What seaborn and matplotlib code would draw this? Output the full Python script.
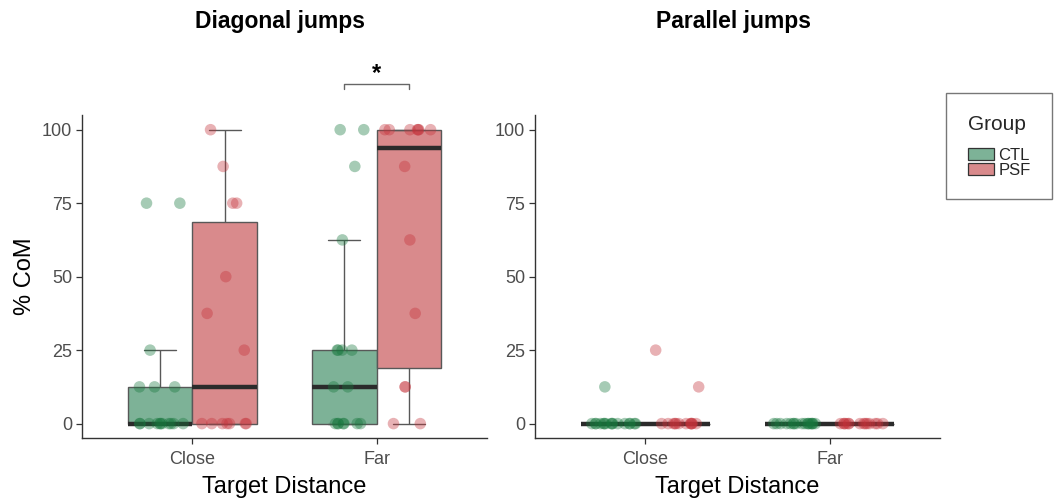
import numpy as np
import pandas as pd
import matplotlib
matplotlib.use("Agg")
import matplotlib.pyplot as plt
import seaborn as sns
from matplotlib.patches import Patch

# ---- data: % change of mind per participant ----
distances = ["Close", "Far"]
groups = ["CTL", "PSF"]
yticks = [0, 25, 50, 75, 100]

diag_ctl_close = [0, 0, 0, 0, 0, 0, 0, 0, 0, 0, 0, 12.5, 12.5, 12.5, 25, 75, 75]
diag_psf_close = [0, 0, 0, 0, 0, 0, 0, 25, 37.5, 50, 75, 75, 87.5, 100]
diag_ctl_far = [0, 0, 0, 0, 0, 0, 0, 12.5, 12.5, 25, 25, 25, 25, 62.5, 87.5, 100, 100]
diag_psf_far = [0, 0, 12.5, 12.5, 37.5, 62.5, 87.5, 100, 100, 100, 100, 100, 100, 100]

par_ctl_close = [0, 0, 0, 0, 0, 0, 0, 0, 0, 0, 0, 0, 0, 0, 0, 0, 12.5]
par_psf_close = [0, 0, 0, 0, 0, 0, 0, 0, 0, 0, 0, 0, 12.5, 25]
par_ctl_far = [0, 0, 0, 0, 0, 0, 0, 0, 0, 0, 0, 0, 0, 0, 0, 0, 0]
par_psf_far = [0, 0, 0, 0, 0, 0, 0, 0, 0, 0, 0, 0, 0, 0]


def long_table(series):
    rows = []
    for (dist, grp), vals in series.items():
        for v in vals:
            rows.append({"Distance": dist, "Group": grp, "CoM": v})
    return pd.DataFrame(rows)


diag_df = long_table({("Close", "CTL"): diag_ctl_close, ("Close", "PSF"): diag_psf_close,
                      ("Far", "CTL"): diag_ctl_far, ("Far", "PSF"): diag_psf_far})
par_df = long_table({("Close", "CTL"): par_ctl_close, ("Close", "PSF"): par_psf_close,
                     ("Far", "CTL"): par_ctl_far, ("Far", "PSF"): par_psf_far})

# ---- style ----
sns.set_theme(style="white")
plt.rcParams["font.family"] = ["Liberation Sans", "DejaVu Sans"]

box_colors = {"CTL": "#7DB297", "PSF": "#D98A8C"}
point_colors = {"CTL": "#17773D", "PSF": "#C4323A"}
edge_grey = "#585858"
axis_grey = "#333333"
tick_text = "#4D4D4D"

np.random.seed(7)

fig = plt.figure(figsize=(10.56, 5.0), dpi=100)
ax_l = fig.add_axes([82 / 1056, 1 - 438.3 / 500, 405 / 1056, 323.3 / 500])
ax_r = fig.add_axes([535 / 1056, 1 - 438.3 / 500, 405 / 1056, 323.3 / 500])

BOX_W = 0.7
HALF = BOX_W / 4  # centre offset of each dodged box


def draw_panel(ax, df):
    sns.boxplot(data=df, x="Distance", y="CoM", hue="Group", order=distances,
                hue_order=groups, palette=box_colors, saturation=1, width=BOX_W,
                gap=0, linewidth=1.0, linecolor=edge_grey, showfliers=False,
                medianprops=dict(color="#2B2B2B", linewidth=3.2),
                legend=False, ax=ax)
    n_before = len(ax.collections)
    sns.stripplot(data=df, x="Distance", y="CoM", hue="Group", order=distances,
                  hue_order=groups, palette=point_colors, dodge=True, jitter=0.26,
                  size=8.3, alpha=0.38, linewidth=0, legend=False, zorder=4, ax=ax)
    # centre the jittered clouds on the dodged boxes
    for coll in ax.collections[n_before:]:
        off = np.asarray(coll.get_offsets(), dtype=float)
        if len(off) == 0:
            continue
        frac = off[:, 0] - np.round(off[:, 0])
        off[:, 0] = np.where(frac < 0, off[:, 0] + (0.2 - HALF), off[:, 0] - (0.2 - HALF))
        coll.set_offsets(off)

    ax.set_xlim(-0.6, 1.6)
    ax.set_ylim(-5, 105)
    ax.set_yticks(yticks)
    ax.set_yticklabels([str(t) for t in yticks])
    for side in ("top", "right"):
        ax.spines[side].set_visible(False)
    for side in ("left", "bottom"):
        ax.spines[side].set_color(axis_grey)
        ax.spines[side].set_linewidth(1.0)
    ax.tick_params(axis="both", which="major", length=4, width=0.9, color=axis_grey,
                   labelcolor=tick_text, labelsize=13, pad=3, left=True, bottom=True)
    ax.tick_params(axis="x", pad=5)
    ax.set_xlabel("Target Distance", fontsize=17, color="black", labelpad=6)
    ax.set_ylabel("")


draw_panel(ax_l, diag_df)
draw_panel(ax_r, par_df)
ax_l.set_ylabel("% CoM", fontsize=17, color="black", labelpad=4)

# titles
for ax, title in ((ax_l, "Diagonal jumps"), (ax_r, "Parallel jumps")):
    pos = ax.get_position()
    fig.text((pos.x0 + pos.x1) / 2 - 0.004, 1 - 28 / 500, title, ha="center",
             va="baseline", fontsize=16.5, fontweight="bold", color="black")

# significance bracket between CTL and PSF at the far distance
bx0, bx1 = 1 - HALF, 1 + HALF
ax_l.plot([bx0, bx0, bx1, bx1], [113.9, 115.6, 115.6, 113.9], color="#666666",
          linewidth=1.0, clip_on=False)
ax_l.text(1, 115.3, "*", ha="center", va="bottom", fontsize=17, fontweight="bold",
          color="black", clip_on=False)

# legend
handles = [Patch(facecolor=box_colors[g], edgecolor="#333333", linewidth=0.9) for g in groups]
leg = fig.legend(handles, groups, title="Group", loc="upper left",
                 bbox_to_anchor=(946 / 1056, 1 - 93 / 500), frameon=True,
                 fancybox=False, edgecolor="#555555", fontsize=12,
                 title_fontsize=15, handlelength=1.55, handleheight=0.72,
                 labelspacing=0.0, handletextpad=0.3, borderpad=1.3,
                 borderaxespad=0.0, alignment="left")
leg._legend_box.sep = 10
leg.get_frame().set_linewidth(1.0)

fig.savefig("out.png", dpi=100)
